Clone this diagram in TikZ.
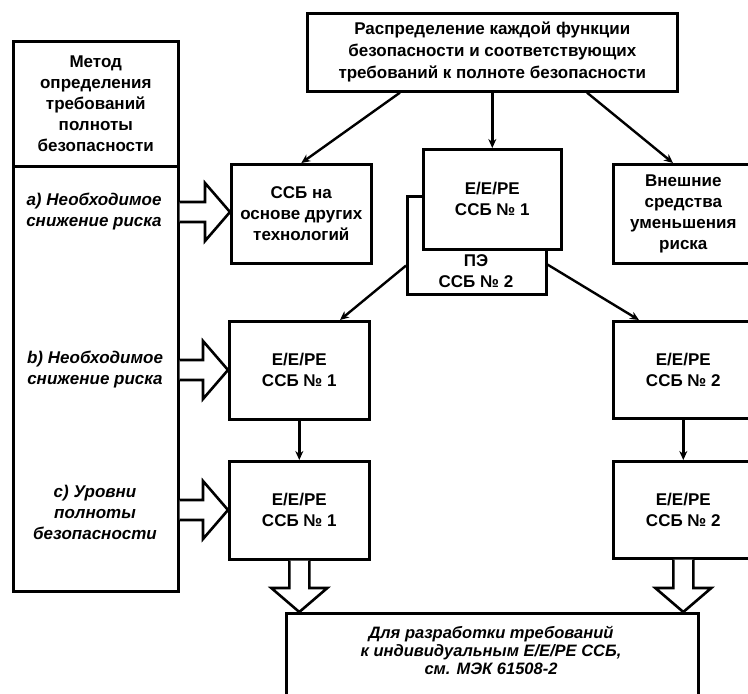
\documentclass[tikz,border=0pt]{standalone}
\usepackage{fontspec}
\setmainfont{Liberation Sans}
\usetikzlibrary{calc,arrows.meta}
\newcommand\fs{\fontsize{17}{21}\selectfont}
\newcommand\fatright[2]{\draw[fat] let \p1=(#1),\p2=(#2) in (\x1,\y1+10pt) -- (\x2-25pt,\y1+10pt) -- (\x2-25pt,\y1+29pt) -- (\x2,\y1) -- (\x2-25pt,\y1-29pt) -- (\x2-25pt,\y1-10pt) -- (\x1,\y1-10pt);}
\newcommand\fatdown[2]{\draw[fat] let \p1=(#1),\p2=(#2) in (\x1-10pt,\y1) -- (\x1-10pt,\y2+24pt) -- (\x1-28pt,\y2+24pt) -- (\x1,\y2) -- (\x1+28pt,\y2+24pt) -- (\x1+10pt,\y2+24pt) -- (\x1+10pt,\y1);}
\begin{document}
\begin{tikzpicture}[x=1pt,y=-1pt,
  box/.style={draw,line width=2.6pt,fill=white,align=center,inner sep=0pt,anchor=north west,font=\bfseries\fs},
  lbl/.style={align=center,inner sep=0pt,font=\bfseries\itshape\fs},
  conn/.style={line width=2.4pt,-{Stealth[length=9pt,width=8pt]}},
  fat/.style={draw,line width=2.6pt,fill=white,line join=miter},
]
\useasboundingbox (0,0) rectangle (748,694);
\clip (0,0) rectangle (748,694);
\fill[white] (0,0) rectangle (748,694);
% boxes
\node[box,minimum width=370,minimum height=78,font=\bfseries\fontsize{17}{22}\selectfont] (top) at (306,12) {Распределение каждой функции\\безопасности и соответствующих\\требований к полноте безопасности};
\node[box,minimum width=165,minimum height=125] (L1) at (12,40) {Метод\\определения\\требований\\полноты\\безопасности};
\node[box,minimum width=165,minimum height=425] (L2) at (12,165) {};
\node[box,minimum width=140,minimum height=99] (ssb) at (230,163) {ССБ на\\основе других\\технологий};
\node[box,minimum width=139,minimum height=98] (B2) at (406,195) {};
\node[lbl,font=\bfseries\fs,anchor=center] (B2t) at (476,271) {ПЭ\\ССБ № 2};
\node[box,minimum width=138,minimum height=100] (B1) at (422,148) {Е/Е/РЕ\\ССБ № 1};
\node[box,minimum width=140,minimum height=99] (ext) at (612,163) {Внешние\\средства\\уменьшения\\риска};
\node[box,minimum width=140,minimum height=98] (m1) at (228,320) {Е/Е/РЕ\\ССБ № 1};
\node[box,minimum width=140,minimum height=97] (m2) at (612,320) {Е/Е/РЕ\\ССБ № 2};
\node[box,minimum width=140,minimum height=98] (l1) at (228,460) {Е/Е/РЕ\\ССБ № 1};
\node[box,minimum width=140,minimum height=97] (l2) at (612,460) {Е/Е/РЕ\\ССБ № 2};
\node[box,minimum width=412,minimum height=120] (bot) at (285,612) {};
\node[lbl,font=\bfseries\itshape\fontsize{16.5}{18}\selectfont] (bott) at (491,650) {Для разработки требований\\к индивидуальным Е/Е/РЕ ССБ,\\см. МЭК 61508-2};
% left labels
\node[lbl] (ta) at (94,212) {a) Необходимое\\снижение риска};
\node[lbl] (tb) at (95,370) {b) Необходимое\\снижение риска};
\node[lbl] (tc) at (95,512) {c) Уровни\\полноты\\безопасности};
% connectors
\draw[conn] ($(top.south west)+(94,0)$) -- (ssb.north);
\draw[conn] (top.south -| B1.north) -- (B1.north);
\draw[conn] ($(top.south west)+(281,0)$) -- ($(ext.north west)+(61,0)$);
\draw[conn] ($(B2.south west)+(0,-30)$) -- ($(m1.north west)+(112,0)$);
\draw[conn] ($(B2.south east)+(0,-31)$) -- ($(m2.north west)+(27,0)$);
\draw[conn] (m1.south) -- (l1.north);
\draw[conn] (m2.south) -- (l2.north);
% hollow arrows
\fatright{L2.east |- ta}{ssb.west |- ta}
\fatright{L2.east |- tb}{m1.west |- tb}
\fatright{$(L2.east |- tc)+(0,-2)$}{$(l1.west |- tc)+(0,-2)$}
\fatdown{l1.south}{bot.north -| l1.south}
\fatdown{l2.south}{bot.north -| l2.south}
\end{tikzpicture}
\end{document}
